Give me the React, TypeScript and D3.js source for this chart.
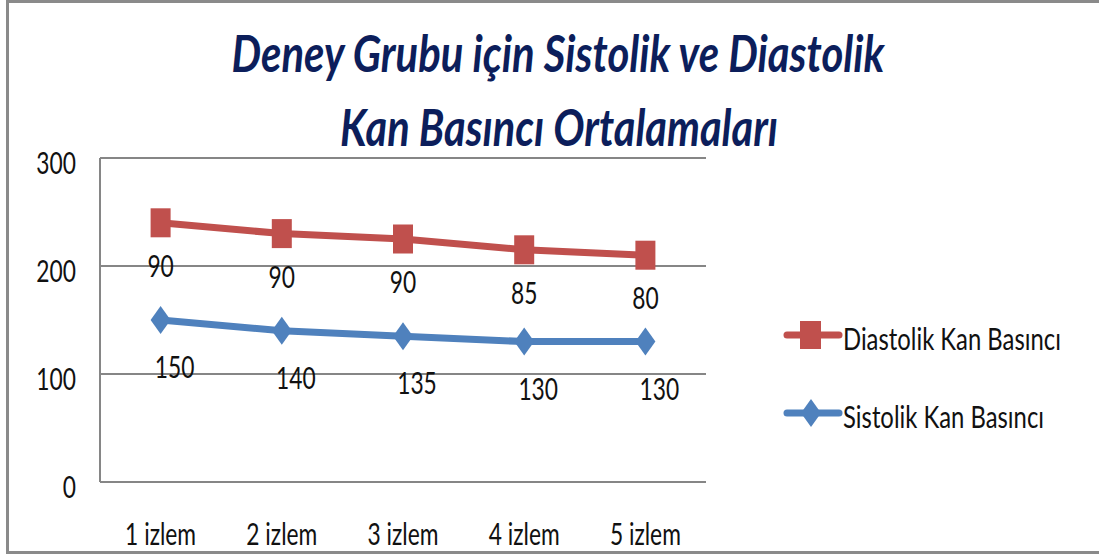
import React from 'react';
import * as d3 from 'd3';

// izlem kategorileri
const categories = ['1 izlem', '2 izlem', '3 izlem', '4 izlem', '5 izlem'];
// seriler (Excel yığılmış çizgi: diastolik sistoliğin üstüne eklenir)
const sistolik = [150, 140, 135, 130, 130];
const diastolik = [90, 90, 90, 85, 80];
const yTicks = [0, 100, 200, 300];
const seriesNames = ['Diastolik Kan Basıncı', 'Sistolik Kan Basıncı'];
const titleLines = ['Deney Grubu için Sistolik ve Diastolik', 'Kan Basıncı Ortalamaları'];

const W = 1099, H = 556;
const RED = '#C0504D', BLUE = '#4F81BD', GRID = '#868686';
const FONT = 'Lato, "Open Sans", sans-serif';
const SX = 0.76; // yatay sıkıştırma (orijinal görüntü daraltılmış)

const T = ({ x, y, size, anchor = 'middle', sx = SX, children }: any) => (
  <text transform={`translate(${x},${y}) scale(${sx},1)`} fontSize={size} textAnchor={anchor}
    fontFamily={FONT} fill="#111">{children}</text>
);

export default function App() {
  const margin = { left: 100, right: W - 706, top: 158, bottom: H - 482 };
  const x = d3.scaleBand().domain(categories).range([margin.left, W - margin.right]);
  const y = d3.scaleLinear().domain([0, 300]).range([H - margin.bottom, margin.top]);

  const rows = categories.map((c, i) => ({ c, sis: sistolik[i], dia: diastolik[i] }));
  const stacked = d3.stack<any>().keys(['sis', 'dia'])(rows);
  const cx = (c: string) => (x(c) as number) + x.bandwidth() / 2;

  const line = d3.line<any>().x(d => cx(d.data.c)).y(d => y(d[1]));
  const blue = stacked[0], red = stacked[1];

  const diamond = (px: number, py: number) =>
    `M${px},${py - 14}L${px + 10},${py}L${px},${py + 14}L${px - 10},${py}Z`;

  return (
    <svg width={W} height={H} style={{ position: 'absolute', left: 0, top: 0, background: '#fff' }}>
      <path d={`M${W + 2},1.5H7.5V552.5H${W + 2}`} fill="none" stroke="#8a8a8a" strokeWidth={3} />

      {/* başlık */}
      {titleLines.map((t, i) => (
        <text key={t} x={[558, 559][i]} y={[72, 146][i]} textAnchor="middle" fontFamily={FONT}
          fontSize={52} fontWeight="bold" fontStyle="italic" fill="#0C1E5B"
          textLength={[653, 438][i]} lengthAdjust="spacingAndGlyphs">{t}</text>
      ))}

      {/* ızgara */}
      {yTicks.map(v => (
        <line key={v} x1={margin.left} x2={W - margin.right} y1={y(v)} y2={y(v)} stroke={GRID} strokeWidth={2} />
      ))}
      <line x1={margin.left} x2={margin.left} y1={y(300)} y2={y(0)} stroke={GRID} strokeWidth={2} />

      {yTicks.map(v => (
        <T key={v} x={76} y={y(v) + 16} size={30} anchor="end">{v}</T>
      ))}
      {categories.map(c => (
        <T key={c} x={cx(c)} y={545} size={30}>{c}</T>
      ))}

      {/* çizgiler */}
      <path d={line(blue) as string} fill="none" stroke={BLUE} strokeWidth={7} />
      <path d={line(red) as string} fill="none" stroke={RED} strokeWidth={7} />
      {blue.map((d, i) => <path key={i} d={diamond(cx(d.data.c), y(d[1]))} fill={BLUE} />)}
      {red.map((d, i) => (
        <rect key={i} x={cx(d.data.c) - 10} y={y(d[1]) - 14.5} width={20} height={29} fill={RED} />
      ))}

      {/* veri etiketleri */}
      {red.map((d, i) => (
        <T key={i} x={cx(d.data.c)} y={y(d[1]) + 54} size={30}>{diastolik[i]}</T>
      ))}
      {blue.map((d, i) => (
        <T key={i} x={cx(d.data.c) + 14} y={y(d[1]) + 58} size={30}>{sistolik[i]}</T>
      ))}

      {/* lejant */}
      {[RED, BLUE].map((col, i) => {
        const ly = [335, 413][i];
        return (
          <g key={col}>
            <line x1={787} x2={839} y1={ly} y2={ly} stroke={col} strokeWidth={7} strokeLinecap="round" />
            {i === 0
              ? <rect x={800} y={ly - 14} width={21} height={28} fill={col} />
              : <path d={diamond(811, ly)} fill={col} />}
            <T x={843} y={ly + 15} size={30} sx={0.795} anchor="start">{seriesNames[i]}</T>
          </g>
        );
      })}
    </svg>
  );
}
